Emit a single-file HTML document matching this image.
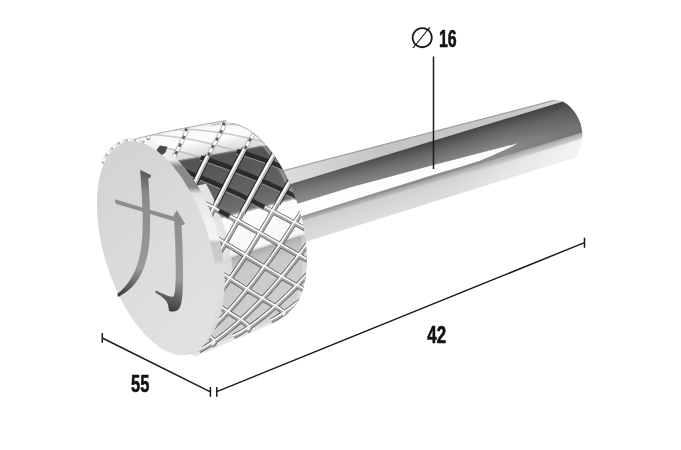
<!DOCTYPE html>
<html lang="en"><head><meta charset="utf-8"><title>Pin dimensions</title>
<style>html,body{margin:0;padding:0;background:#fff}body{width:681px;height:450px;overflow:hidden}svg{display:block}</style></head>
<body>
<svg width="681" height="450" viewBox="0 0 681 450">
<defs>
<linearGradient id="gTop" gradientUnits="userSpaceOnUse" x1="285" y1="0" x2="575" y2="0"><stop offset="0" stop-color="#dcdcdc"/><stop offset=".35" stop-color="#c4c4c4"/><stop offset=".8" stop-color="#c8c8c8"/><stop offset="1" stop-color="#dadada"/></linearGradient>
<linearGradient id="gDark" gradientUnits="userSpaceOnUse" x1="430" y1="141" x2="438.5" y2="169"><stop offset="0" stop-color="#424242"/><stop offset=".4" stop-color="#686868"/><stop offset="1" stop-color="#8c8c8c"/></linearGradient>
<linearGradient id="gDarkL" gradientUnits="userSpaceOnUse" x1="285" y1="0" x2="420" y2="0"><stop offset="0" stop-color="#fff" stop-opacity=".16"/><stop offset="1" stop-color="#fff" stop-opacity="0"/></linearGradient>
<linearGradient id="gDarkR" gradientUnits="userSpaceOnUse" x1="500" y1="0" x2="585" y2="0"><stop offset="0" stop-color="#333" stop-opacity="0"/><stop offset="1" stop-color="#333" stop-opacity=".3"/></linearGradient>
<linearGradient id="gLow" gradientUnits="userSpaceOnUse" x1="430" y1="179" x2="438" y2="205"><stop offset="0" stop-color="#cacaca"/><stop offset=".4" stop-color="#d6d6d6"/><stop offset="1" stop-color="#dfdfdf"/></linearGradient>
<linearGradient id="gLowE" gradientUnits="userSpaceOnUse" x1="430" y1="178.5" x2="432" y2="185"><stop offset="0" stop-color="#808080" stop-opacity=".55"/><stop offset="1" stop-color="#8a8a8a" stop-opacity="0"/></linearGradient>
<linearGradient id="gLowR" gradientUnits="userSpaceOnUse" x1="450" y1="175" x2="590" y2="190"><stop offset="0" stop-color="#fff" stop-opacity="0"/><stop offset="1" stop-color="#fff" stop-opacity=".8"/></linearGradient>
<linearGradient id="gBev" gradientUnits="userSpaceOnUse" x1="0" y1="140" x2="0" y2="350"><stop offset="0" stop-color="#f4f4f4"/><stop offset=".095" stop-color="#ececec"/><stop offset=".125" stop-color="#8c8c8c"/><stop offset=".225" stop-color="#868686"/><stop offset=".255" stop-color="#e4e4e4"/><stop offset=".4" stop-color="#f2f2f2"/><stop offset=".47" stop-color="#f4f4f4"/><stop offset=".49" stop-color="#c8c8c8"/><stop offset=".57" stop-color="#cccccc"/><stop offset=".6" stop-color="#e0e0e0"/><stop offset="1" stop-color="#d8d8d8"/></linearGradient>
<linearGradient id="gGlyph" gradientUnits="userSpaceOnUse" x1="0" y1="-50" x2="0" y2="45"><stop offset="0" stop-color="#4a4a4a"/><stop offset=".2" stop-color="#8a8a8a"/><stop offset=".75" stop-color="#9a9a9a"/><stop offset="1" stop-color="#3c3c3c"/></linearGradient>
<linearGradient id="gFace" gradientUnits="userSpaceOnUse" x1="105" y1="180" x2="215" y2="300"><stop offset="0" stop-color="#d4d4d4"/><stop offset=".5" stop-color="#dbdbdb"/><stop offset="1" stop-color="#e1e1e1"/></linearGradient>
<linearGradient id="gCh" gradientUnits="userSpaceOnUse" x1="175" y1="0" x2="235" y2="0"><stop offset="0" stop-color="#ededed"/><stop offset=".7" stop-color="#e6e6e6" stop-opacity=".95"/><stop offset="1" stop-color="#dcdcdc" stop-opacity=".85"/></linearGradient>
<clipPath id="cShaft"><path d="M270,173.6 L551,100.5 C556,99.2 560,100 564.4,102.4 C569,105 573,109.5 576,114 C580,120.5 582,127 582.3,134 C582.4,143 579,151 574.5,157.5 L300,243.4 Z"/></clipPath>
</defs>
<rect width="681" height="450" fill="#fff"/>
<g clip-path="url(#cShaft)">
<rect x="260" y="80" width="340" height="180" fill="#e4e4e4"/>
<polygon points="270,189.3 600,89.3 600,128 270,229" fill="url(#gDark)"/>
<polygon points="270,189.3 420,143.9 420,183.1 270,229" fill="url(#gDarkL)"/>
<polygon points="500,119.6 600,89.3 600,128 500,158.6" fill="url(#gDarkR)"/>
<polygon points="270,170.6 600,84.8 600,90.3 270,190.3" fill="url(#gTop)"/>
<path d="M270,174.2 L600,88.4" stroke="#8c8c8c" stroke-opacity=".7" stroke-width="1.2" fill="none"/>
<polygon points="270,212.3 299.8,203.1 350,187.6 433.6,165.1 518,143.3 510,147.4 500,152 490,156.6 480,160.7 460,166.9 440,172.7 400,185.2 300,216.4 270,225.6" fill="#fdfdfd"/>
<polygon points="270,228 600,127 600,159.8 270,262.8" fill="url(#gLow)"/>
<polygon points="270,228 600,127 600,134 270,230" fill="url(#gLowE)"/>
<polygon points="440,183 600,133 600,159.8 440,209.8" fill="url(#gLowR)"/>
</g>
<clipPath id="cBody"><path d="M117,145.5 L140,137.6 L163.7,132 L204.5,124 L226,120.3 L229.6,122.8 L234.1,123.4 L238.8,124.7 L243.5,126.7 L248.3,129.4 L253.1,132.7 L257.9,136.7 L262.6,141.3 L267.3,146.6 L271.8,152.3 L276.2,158.6 L280.4,165.3 L284.3,172.4 L288,179.9 L291.5,187.7 L294.6,195.7 L297.4,203.9 L299.9,212.2 L302,220.6 L303.7,229 L305.1,237.3 L306,245.5 L306.5,253.5 L306.6,261.3 L306.3,268.7 L305.6,275.8 L304.5,282.5 L303,288.7 L301.1,294.4 L298.8,299.6 L296.1,304.2 L286,315 L277.5,321.5 L196,356.5 L189.8,353.8 L185.7,354.7 L181.5,354.9 L177.1,354.5 L172.6,353.4 L168,351.7 L163.3,349.3 L158.6,346.4 L153.9,342.8 L149.2,338.6 L144.5,333.9 L140,328.6 L135.5,322.9 L131.2,316.7 L127,310 L123,303 L119.2,295.7 L115.7,288 L112.4,280.1 L109.4,272 L106.7,263.8 L104.3,255.5 L102.2,247.1 L100.4,238.7 L99,230.4 L98,222.2 L97.3,214.2 L97,206.4 L97.1,198.8 L97.5,191.5 L98.3,184.6 L99.5,178.1 L101,172 L102.9,166.4 L105.1,161.2 L107.6,156.7 L110.4,152.6 L113.6,149.2 L116.9,146.4 L120.6,144.2 L124.4,142.6 Z"/></clipPath>
<g clip-path="url(#cBody)">
<rect x="90" y="100" width="240" height="270" fill="#e6e6e6"/>
<polygon points="109.6,142.5 218.2,127.2 219.6,126.2 111.2,141.4" fill="#f4f4f4"/>
<polygon points="110.4,141.9 218.9,126.7 220.4,125.7 112,140.8" fill="#f3f3f3"/>
<polygon points="111.2,141.4 219.6,126.2 221.1,125.3 112.9,140.3" fill="#f2f2f2"/>
<polygon points="112,140.8 220.4,125.7 221.9,124.9 113.7,139.9" fill="#f1f1f1"/>
<polygon points="112.9,140.3 221.1,125.3 222.7,124.5 114.6,139.4" fill="#f0f0f0"/>
<polygon points="113.7,139.9 221.9,124.9 223.4,124.1 115.4,139" fill="#f0f0f0"/>
<polygon points="114.6,139.4 222.7,124.5 224.2,123.8 116.3,138.7" fill="#efefef"/>
<polygon points="115.4,139 223.4,124.1 225,123.5 117.2,138.3" fill="#eeeeee"/>
<polygon points="116.3,138.7 224.2,123.8 225.9,123.2 118.1,138" fill="#ededed"/>
<polygon points="117.2,138.3 225,123.5 226.7,123 119.1,137.8" fill="#ececec"/>
<polygon points="118.1,138 225.9,123.2 227.5,122.8 120,137.6" fill="#ededed"/>
<polygon points="119.1,137.8 226.7,123 228.4,122.6 120.9,137.4" fill="#eeeeee"/>
<polygon points="120,137.6 227.5,122.8 229.2,122.5 121.9,137.2" fill="#efefef"/>
<polygon points="120.9,137.4 228.4,122.6 230.1,122.3 122.8,137.1" fill="#f0f0f0"/>
<polygon points="121.9,137.2 229.2,122.5 230.9,122.2 123.8,137" fill="#f1f1f1"/>
<polygon points="122.8,137.1 230.1,122.3 231.8,122.2 124.8,136.9" fill="#f3f3f3"/>
<polygon points="123.8,137 230.9,122.2 232.7,122.1 125.7,136.9" fill="#f4f4f4"/>
<polygon points="124.8,136.9 231.8,122.2 233.6,122.1 126.7,136.9" fill="#f5f5f5"/>
<polygon points="125.7,136.9 232.7,122.1 234.5,122.2 127.7,136.9" fill="#f6f6f6"/>
<polygon points="126.7,136.9 233.6,122.1 235.4,122.2 128.7,137" fill="#f7f7f7"/>
<polygon points="127.7,136.9 234.5,122.2 236.3,122.3 129.8,137.1" fill="#f8f8f8"/>
<polygon points="128.7,137 235.4,122.2 237.2,122.4 130.8,137.2" fill="#f8f8f8"/>
<polygon points="129.8,137.1 236.3,122.3 238.1,122.6 131.8,137.4" fill="#f8f8f8"/>
<polygon points="130.8,137.2 237.2,122.4 239,122.7 132.8,137.6" fill="#f9f9f9"/>
<polygon points="131.8,137.4 238.1,122.6 239.9,122.9 133.9,137.8" fill="#f9f9f9"/>
<polygon points="132.8,137.6 239,122.7 240.9,123.2 134.9,138.1" fill="#f9f9f9"/>
<polygon points="133.9,137.8 239.9,122.9 241.8,123.4 136,138.4" fill="#f9f9f9"/>
<polygon points="134.9,138.1 240.9,123.2 242.8,123.7 137,138.7" fill="#f9f9f9"/>
<polygon points="136,138.4 241.8,123.4 243.7,124 138.1,139.1" fill="#f9f9f9"/>
<polygon points="137,138.7 242.8,123.7 244.7,124.4 139.1,139.5" fill="#fafafa"/>
<polygon points="138.1,139.1 243.7,124 245.6,124.8 140.2,139.9" fill="#fafafa"/>
<polygon points="139.1,139.5 244.7,124.4 246.6,125.2 141.3,140.4" fill="#fafafa"/>
<polygon points="140.2,139.9 245.6,124.8 247.5,125.6 142.3,140.9" fill="#fafafa"/>
<polygon points="141.3,140.4 246.6,125.2 248.5,126.1 143.4,141.4" fill="#fafafa"/>
<polygon points="142.3,140.9 247.5,125.6 249.4,126.6 144.5,142" fill="#fafafa"/>
<polygon points="143.4,141.4 248.5,126.1 250.4,127.1 145.6,142.6" fill="#fafafa"/>
<polygon points="144.5,142 249.4,126.6 251.4,127.6 146.6,143.2" fill="#fbfbfb"/>
<polygon points="145.6,142.6 250.4,127.1 252.3,128.2 147.7,143.9" fill="#fbfbfb"/>
<polygon points="146.6,143.2 251.4,127.6 253.3,128.8 148.8,144.6" fill="#fbfbfb"/>
<polygon points="147.7,143.9 252.3,128.2 254.3,129.4 149.9,145.3" fill="#fbfbfb"/>
<polygon points="148.8,144.6 253.3,128.8 255.2,130.1 151,146" fill="#fbfbfb"/>
<polygon points="149.9,145.3 254.3,129.4 256.2,130.8 152.1,146.8" fill="#fbfbfb"/>
<polygon points="151,146 255.2,130.1 257.2,131.5 153.2,147.6" fill="#fcfcfc"/>
<polygon points="152.1,146.8 256.2,130.8 258.1,132.2 154.2,148.5" fill="#fcfcfc"/>
<polygon points="153.2,147.6 257.2,131.5 259.1,133 155.3,149.4" fill="#fcfcfc"/>
<polygon points="154.2,148.5 258.1,132.2 260.1,133.8 156.4,150.3" fill="#fbfbfb"/>
<polygon points="155.3,149.4 259.1,133 261,134.6 157.5,151.2" fill="#f8f8f8"/>
<polygon points="156.4,150.3 260.1,133.8 262,135.4 158.6,152.2" fill="#f5f5f5"/>
<polygon points="157.5,151.2 261,134.6 263,136.3 159.7,153.1" fill="#f2f2f2"/>
<polygon points="158.6,152.2 262,135.4 263.9,137.2 160.7,154.2" fill="#f0f0f0"/>
<polygon points="159.7,153.1 263,136.3 264.9,138.1 161.8,155.2" fill="#ededed"/>
<polygon points="160.7,154.2 263.9,137.2 265.8,139.1 162.9,156.3" fill="#eaeaea"/>
<polygon points="161.8,155.2 264.9,138.1 266.8,140 163.9,157.4" fill="#e7e7e7"/>
<polygon points="162.9,156.3 265.8,139.1 267.7,141 165,158.5" fill="#e4e4e4"/>
<polygon points="163.9,157.4 266.8,140 268.7,142 166.1,159.7" fill="#e1e1e1"/>
<polygon points="165,158.5 267.7,141 269.6,143.1 167.1,160.9" fill="#dddddd"/>
<polygon points="166.1,159.7 268.7,142 270.6,144.1 168.2,162.1" fill="#dadada"/>
<polygon points="167.1,160.9 269.6,143.1 271.5,145.2 169.2,163.3" fill="#d6d6d6"/>
<polygon points="168.2,162.1 270.6,144.1 272.4,146.3 170.3,164.6" fill="#7f7f7f"/>
<polygon points="169.2,163.3 271.5,145.2 273.3,147.5 171.3,165.9" fill="#545454"/>
<polygon points="170.3,164.6 272.4,146.3 274.3,148.6 172.3,167.2" fill="#555555"/>
<polygon points="171.3,165.9 273.3,147.5 275.2,149.8 173.4,168.5" fill="#555555"/>
<polygon points="172.3,167.2 274.3,148.6 276.1,151 174.4,169.9" fill="#555555"/>
<polygon points="173.4,168.5 275.2,149.8 277,152.2 175.4,171.3" fill="#565656"/>
<polygon points="174.4,169.9 276.1,151 277.9,153.4 176.4,172.7" fill="#565656"/>
<polygon points="175.4,171.3 277,152.2 278.7,154.7 177.4,174.1" fill="#565656"/>
<polygon points="176.4,172.7 277.9,153.4 279.6,155.9 178.4,175.6" fill="#575757"/>
<polygon points="177.4,174.1 278.7,154.7 280.5,157.2 179.3,177" fill="#575757"/>
<polygon points="178.4,175.6 279.6,155.9 281.3,158.5 180.3,178.5" fill="#575757"/>
<polygon points="179.3,177 280.5,157.2 282.2,159.9 181.3,180.1" fill="#585858"/>
<polygon points="180.3,178.5 281.3,158.5 283,161.2 182.2,181.6" fill="#585858"/>
<polygon points="181.3,180.1 282.2,159.9 283.9,162.6 183.2,183.2" fill="#595959"/>
<polygon points="182.2,181.6 283,161.2 284.7,164 184.1,184.7" fill="#5a5a5a"/>
<polygon points="183.2,183.2 283.9,162.6 285.5,165.4 185,186.3" fill="#5b5b5b"/>
<polygon points="184.1,184.7 284.7,164 286.3,166.8 185.9,187.9" fill="#5c5c5c"/>
<polygon points="185,186.3 285.5,165.4 287.1,168.2 186.9,189.6" fill="#5c5c5c"/>
<polygon points="185.9,187.9 286.3,166.8 287.9,169.7 187.7,191.2" fill="#5d5d5d"/>
<polygon points="186.9,189.6 287.1,168.2 288.7,171.1 188.6,192.9" fill="#5e5e5e"/>
<polygon points="187.7,191.2 287.9,169.7 289.5,172.6 189.5,194.6" fill="#5f5f5f"/>
<polygon points="188.6,192.9 288.7,171.1 290.2,174.1 190.4,196.3" fill="#5f5f5f"/>
<polygon points="189.5,194.6 289.5,172.6 291,175.6 191.2,198" fill="#606060"/>
<polygon points="190.4,196.3 290.2,174.1 291.7,177.1 192,199.7" fill="#616161"/>
<polygon points="191.2,198 291,175.6 292.5,178.7 192.9,201.5" fill="#626262"/>
<polygon points="192,199.7 291.7,177.1 293.2,180.2 193.7,203.2" fill="#626262"/>
<polygon points="192.9,201.5 292.5,178.7 293.9,181.8 194.5,205" fill="#636363"/>
<polygon points="193.7,203.2 293.2,180.2 294.6,183.3 195.3,206.8" fill="#646464"/>
<polygon points="194.5,205 293.9,181.8 295.3,184.9 196,208.6" fill="#656565"/>
<polygon points="195.3,206.8 294.6,183.3 295.9,186.5 196.8,210.4" fill="#666666"/>
<polygon points="196,208.6 295.3,184.9 296.6,188.1 197.5,212.2" fill="#676767"/>
<polygon points="196.8,210.4 295.9,186.5 297.2,189.7 198.3,214" fill="#696969"/>
<polygon points="197.5,212.2 296.6,188.1 297.9,191.3 199,215.9" fill="#6b6b6b"/>
<polygon points="198.3,214 297.2,189.7 298.5,192.9 199.7,217.7" fill="#6d6d6d"/>
<polygon points="199,215.9 297.9,191.3 299.1,194.6 200.4,219.6" fill="#6f6f6f"/>
<polygon points="199.7,217.7 298.5,192.9 299.7,196.2 201.1,221.4" fill="#717171"/>
<polygon points="200.4,219.6 299.1,194.6 300.3,197.8 201.7,223.3" fill="#737373"/>
<polygon points="201.1,221.4 299.7,196.2 300.8,199.5 202.4,225.2" fill="#a1a1a1"/>
<polygon points="201.7,223.3 300.3,197.8 301.4,201.2 203,227.1" fill="#fcfcfc"/>
<polygon points="202.4,225.2 300.8,199.5 301.9,202.8 203.6,229" fill="#fcfcfc"/>
<polygon points="203,227.1 301.4,201.2 302.5,204.5 204.2,230.9" fill="#fcfcfc"/>
<polygon points="203.6,229 301.9,202.8 303,206.2 204.8,232.8" fill="#fbfbfb"/>
<polygon points="204.2,230.9 302.5,204.5 303.5,207.8 205.3,234.7" fill="#fbfbfb"/>
<polygon points="204.8,232.8 303,206.2 303.9,209.5 205.9,236.6" fill="#fbfbfb"/>
<polygon points="205.3,234.7 303.5,207.8 304.4,211.2 206.4,238.5" fill="#fbfbfb"/>
<polygon points="205.9,236.6 303.9,209.5 304.9,212.9 206.9,240.4" fill="#fbfbfb"/>
<polygon points="206.4,238.5 304.4,211.2 305.3,214.6 207.4,242.4" fill="#fafafa"/>
<polygon points="206.9,240.4 304.9,212.9 305.7,216.3 207.9,244.3" fill="#fafafa"/>
<polygon points="207.4,242.4 305.3,214.6 306.1,218 208.4,246.2" fill="#fafafa"/>
<polygon points="207.9,244.3 305.7,216.3 306.5,219.7 208.8,248.1" fill="#fafafa"/>
<polygon points="208.4,246.2 306.1,218 306.9,221.3 209.3,250.1" fill="#fafafa"/>
<polygon points="208.8,248.1 306.5,219.7 307.3,223 209.7,252" fill="#f9f9f9"/>
<polygon points="209.3,250.1 306.9,221.3 307.6,224.7 210.1,253.9" fill="#f9f9f9"/>
<polygon points="209.7,252 307.3,223 307.9,226.4 210.4,255.8" fill="#f9f9f9"/>
<polygon points="210.1,253.9 307.6,224.7 308.2,228.1 210.8,257.7" fill="#f9f9f9"/>
<polygon points="210.4,255.8 307.9,226.4 308.5,229.8 211.1,259.7" fill="#f9f9f9"/>
<polygon points="210.8,257.7 308.2,228.1 308.8,231.5 211.5,261.6" fill="#f8f8f8"/>
<polygon points="211.1,259.7 308.5,229.8 309.1,233.1 211.8,263.5" fill="#f8f8f8"/>
<polygon points="211.5,261.6 308.8,231.5 309.3,234.8 212.1,265.4" fill="#dfdfdf"/>
<polygon points="211.8,263.5 309.1,233.1 309.6,236.5 212.3,267.3" fill="#adadad"/>
<polygon points="212.1,265.4 309.3,234.8 309.8,238.1 212.6,269.1" fill="#b2b2b2"/>
<polygon points="212.3,267.3 309.6,236.5 310,239.8 212.8,271" fill="#b7b7b7"/>
<polygon points="212.6,269.1 309.8,238.1 310.1,241.4 213,272.9" fill="#bcbcbc"/>
<polygon points="212.8,271 310,239.8 310.3,243.1 213.2,274.8" fill="#bfbfbf"/>
<polygon points="213,272.9 310.1,241.4 310.5,244.7 213.4,276.6" fill="#c1c1c1"/>
<polygon points="213.2,274.8 310.3,243.1 310.6,246.3 213.6,278.5" fill="#c3c3c3"/>
<polygon points="213.4,276.6 310.5,244.7 310.7,248 213.7,280.3" fill="#c5c5c5"/>
<polygon points="213.6,278.5 310.6,246.3 310.8,249.6 213.8,282.1" fill="#c7c7c7"/>
<polygon points="213.7,280.3 310.7,248 310.9,251.2 213.9,284" fill="#c9c9c9"/>
<polygon points="213.8,282.1 310.8,249.6 310.9,252.8 214,285.8" fill="#cacaca"/>
<polygon points="213.9,284 310.9,251.2 311,254.3 214.1,287.6" fill="#cacaca"/>
<polygon points="214,285.8 310.9,252.8 311,255.9 214.1,289.3" fill="#cacaca"/>
<polygon points="214.1,287.6 311,254.3 311,257.5 214.1,291.1" fill="#cacaca"/>
<polygon points="214.1,289.3 311,255.9 311,259 214.1,292.9" fill="#cbcbcb"/>
<polygon points="214.1,291.1 311,257.5 311,260.5 214.1,294.6" fill="#cbcbcb"/>
<polygon points="214.1,292.9 311,259 311,262.1 214.1,296.3" fill="#cbcbcb"/>
<polygon points="214.1,294.6 311,260.5 310.9,263.6 214,298.1" fill="#cbcbcb"/>
<polygon points="214.1,296.3 311,262.1 310.8,265.1 214,299.8" fill="#cbcbcb"/>
<polygon points="214,298.1 310.9,263.6 310.8,266.5 213.9,301.4" fill="#cbcbcb"/>
<polygon points="214,299.8 310.8,265.1 310.7,268 213.8,303.1" fill="#cbcbcb"/>
<polygon points="213.9,301.4 310.8,266.5 310.5,269.5 213.7,304.8" fill="#cbcbcb"/>
<polygon points="213.8,303.1 310.7,268 310.4,270.9 213.5,306.4" fill="#cccccc"/>
<polygon points="213.7,304.8 310.5,269.5 310.2,272.3 213.3,308" fill="#cccccc"/>
<polygon points="213.5,306.4 310.4,270.9 310.1,273.7 213.2,309.6" fill="#cccccc"/>
<polygon points="213.3,308 310.2,272.3 309.9,275.1 213,311.2" fill="#cccccc"/>
<polygon points="213.2,309.6 310.1,273.7 309.7,276.5 212.7,312.7" fill="#cccccc"/>
<polygon points="213,311.2 309.9,275.1 309.5,277.8 212.5,314.3" fill="#cccccc"/>
<polygon points="212.7,312.7 309.7,276.5 309.2,279.2 212.2,315.8" fill="#cccccc"/>
<polygon points="212.5,314.3 309.5,277.8 309,280.5 212,317.3" fill="#cccccc"/>
<polygon points="212.2,315.8 309.2,279.2 308.7,281.8 211.7,318.7" fill="#cccccc"/>
<polygon points="212,317.3 309,280.5 308.4,283.1 211.4,320.2" fill="#cdcdcd"/>
<polygon points="211.7,318.7 308.7,281.8 308.1,284.3 211,321.6" fill="#cdcdcd"/>
<polygon points="211.4,320.2 308.4,283.1 307.8,285.6 210.7,323" fill="#cdcdcd"/>
<polygon points="211,321.6 308.1,284.3 307.4,286.8 210.3,324.4" fill="#cdcdcd"/>
<polygon points="210.7,323 307.8,285.6 307.1,288 209.9,325.8" fill="#cdcdcd"/>
<polygon points="210.3,324.4 307.4,286.8 306.7,289.2 209.5,327.1" fill="#cdcdcd"/>
<polygon points="209.9,325.8 307.1,288 306.3,290.3 209.1,328.4" fill="#cdcdcd"/>
<polygon points="209.5,327.1 306.7,289.2 305.9,291.4 208.7,329.7" fill="#cdcdcd"/>
<polygon points="209.1,328.4 306.3,290.3 305.5,292.6 208.2,331" fill="#cecece"/>
<polygon points="208.7,329.7 305.9,291.4 305.1,293.6 207.8,332.2" fill="#cecece"/>
<polygon points="208.2,331 305.5,292.6 304.7,294.7 207.3,333.4" fill="#cecece"/>
<polygon points="207.8,332.2 305.1,293.6 304.2,295.8 206.8,334.6" fill="#cecece"/>
<polygon points="207.3,333.4 304.7,294.7 303.7,296.8 206.2,335.7" fill="#cecece"/>
<polygon points="206.8,334.6 304.2,295.8 303.2,297.8 205.7,336.9" fill="#cecece"/>
<polygon points="206.2,335.7 303.7,296.8 302.7,298.7 205.2,338" fill="#cfcfcf"/>
<polygon points="205.7,336.9 303.2,297.8 302.2,299.7 204.6,339" fill="#cfcfcf"/>
<polygon points="205.2,338 302.7,298.7 301.7,300.6 204,340.1" fill="#cfcfcf"/>
<polygon points="204.6,339 302.2,299.7 301.1,301.5 203.4,341.1" fill="#cfcfcf"/>
<polygon points="204,340.1 301.7,300.6 300.6,302.4 202.8,342.1" fill="#d0d0d0"/>
<polygon points="203.4,341.1 301.1,301.5 300,303.2 202.1,343.1" fill="#d0d0d0"/>
<polygon points="202.8,342.1 300.6,302.4 299.4,304.1 201.5,344" fill="#d0d0d0"/>
<polygon points="202.1,343.1 300,303.2 298.8,304.9 200.8,344.9" fill="#d0d0d0"/>
<polygon points="201.5,344 299.4,304.1 298.2,305.6 200.2,345.8" fill="#d1d1d1"/>
<polygon points="200.8,344.9 298.8,304.9 297.6,306.4 199.5,346.6" fill="#d1d1d1"/>
<polygon points="200.2,345.8 298.2,305.6 297,307.1 198.7,347.4" fill="#d1d1d1"/>
<polygon points="199.5,346.6 297.6,306.4 296.3,307.8 198,348.2" fill="#d1d1d1"/>
<polygon points="198.7,347.4 297,307.1 295.6,308.4 197.3,348.9" fill="#d2d2d2"/>
<polygon points="198,348.2 296.3,307.8 295,309.1 196.5,349.7" fill="#d2d2d2"/>
<polygon points="197.3,348.9 295.6,308.4 294.3,309.7 195.8,350.4" fill="#d2d2d2"/>
<polygon points="196.5,349.7 295,309.1 293.6,310.3 195,351" fill="#d2d2d2"/>
<polygon points="195.8,350.4 294.3,309.7 292.9,310.8 194.2,351.6" fill="#d3d3d3"/>
<polygon points="195,351 293.6,310.3 292.1,311.4 193.4,352.2" fill="#d3d3d3"/>
<polygon points="194.2,351.6 292.9,310.8 291.4,311.9 192.6,352.8" fill="#d3d3d3"/>
<polygon points="193.4,352.2 292.1,311.4 290.7,312.3 191.8,353.3" fill="#d3d3d3"/>
<polygon points="192.6,352.8 291.4,311.9 289.9,312.8 190.9,353.8" fill="#d4d4d4"/>
<polygon points="191.8,353.3 290.7,312.3 289.1,313.2 190.1,354.3" fill="#d4d4d4"/>
<polygon points="190.9,353.8 289.9,312.8 288.4,313.6 189.2,354.7" fill="#d4d4d4"/>
<polygon points="190.1,354.3 289.1,313.2 287.6,313.9 188.3,355.1" fill="#d4d4d4"/>
<polygon points="189.2,354.7 288.4,313.6 286.8,314.2 187.4,355.5" fill="#d5d5d5"/>
<polygon points="188.3,355.1 287.6,313.9 286,314.5 186.5,355.8" fill="#d5d5d5"/>
<polygon points="187.4,355.5 286.8,314.2 285.2,314.8 185.6,356.1" fill="#d5d5d5"/>
<polygon points="186.5,355.8 286,314.5 284.3,315 184.7,356.4" fill="#d5d5d5"/>
<polygon points="185.6,356.1 285.2,314.8 283.5,315.3 183.8,356.6" fill="#d6d6d6"/>
<polygon points="184.7,356.4 284.3,315 282.7,315.4 182.9,356.8" fill="#d6d6d6"/>
<polygon points="183.8,356.6 283.5,315.3 281.8,315.6 181.9,357" fill="#d6d6d6"/>
<polygon points="182.9,356.8 282.7,315.4 281,315.7 181,357.1" fill="#d6d6d6"/>
<polygon points="181.9,357 281.8,315.6 280.1,315.8 180,357.2" fill="#d7d7d7"/>
<polygon points="181,357.1 281,315.7 279.2,315.9 179,357.3" fill="#d7d7d7"/>
<polygon points="180,357.2 280.1,315.8 278.3,315.9 178,357.3" fill="#d7d7d7"/>
<polygon points="179,357.3 279.2,315.9 277.5,315.9 177,357.3" fill="#d7d7d7"/>
<polygon points="178,357.3 278.3,315.9 276.6,315.9 176,357.3" fill="#d8d8d8"/>
<polygon points="177,357.3 277.5,315.9 275.7,315.8 175,357.2" fill="#d8d8d8"/>
<polygon points="186.9,187.7 189.5,192.7 192.1,197.8 194.6,203 196.9,208.4 199.2,213.8 201.3,219.3 203.3,225 205.1,230.6 206.8,236.4 208.3,242.1 209.7,247.9 211,253.6 212,259.4 212.9,265.1 213.7,270.7 214.3,276.3 214.7,281.8 214.9,287.3 233.4,280.9 233.2,275.6 232.8,270.2 232.2,264.8 231.5,259.3 230.6,253.7 229.6,248.1 228.4,242.4 227,236.8 225.5,231.2 223.8,225.6 222.1,220.1 220.1,214.6 218.1,209.2 215.9,203.8 213.6,198.6 211.2,193.5 208.6,188.5 206,183.7" fill="url(#gCh)"/>
<polygon points="244.3,130.2 248.2,132.9 252.1,136 256,139.6 259.8,143.6 263.6,147.9 267.3,152.6 270.9,157.6 274.3,163 277.7,168.6 280.8,174.5 283.9,180.6 286.7,186.9 289.3,193.4 291.8,200 294,206.8 295.9,213.6 297.7,220.4 299.2,227.2 300.4,234.1 301.4,240.8 302.1,247.5 302.5,254 302.7,260.4 302.6,266.5 302.2,272.5 301.5,278.2 300.6,283.7 299.4,288.8 297.9,293.6 296.3,298.1 294.3,302.1 292.1,305.8 289.7,309.1 287.1,311.9 284.3,314.4 281.4,316.3 278.2,317.8 274.9,318.8 271.4,319.4 277.5,315.5 281,315.4 284.4,314.9 287.7,313.9 290.8,312.4 293.8,310.5 296.5,308.1 299.1,305.3 301.5,302 303.6,298.4 305.5,294.4 307.2,290 308.7,285.2 309.8,280.1 310.8,274.8 311.4,269.1 311.8,263.3 311.9,257.2 311.8,250.9 311.3,244.4 310.7,237.8 309.7,231.2 308.5,224.5 307,217.7 305.3,211 303.4,204.3 301.2,197.6 298.8,191.1 296.2,184.7 293.4,178.4 290.4,172.4 287.3,166.6 284,161 280.5,155.8 277,150.8 273.3,146.2 269.6,141.9 265.8,138 262,134.4 258.1,131.3 254.3,128.7" fill="#ffffff" fill-opacity=".28"/>
<path d="M190.4,192.4 L191.5,190.1 L192.6,187.7 L193.4,186.2 M204.8,226.6 L206.1,223.9 L207.5,221.3 L208.9,218.6 L210.2,216 L211.5,213.4 L212.8,210.9 L214.1,208.3 L215.4,205.8 L216.2,204.1 M213.5,262.8 L215.2,260 L216.9,257.2 L218.6,254.4 L220.3,251.6 L221.9,248.9 L223.5,246.1 L225.1,243.4 L226.7,240.6 L228.3,237.9 L229.8,235.2 L231.3,232.5 L232.8,229.8 L234.3,227.2 L235.8,224.5 L237.3,221.9 L238.7,219.3 L240.1,216.7 L241.5,214.1 L242.5,212.4 M215.8,298.2 L217.9,295.5 L220,292.7 L222.1,289.9 L224.1,287.1 L226.1,284.4 L228.1,281.6 L230.1,278.8 L232.1,276 L234,273.3 L235.9,270.5 L237.8,267.8 L239.6,265 L241.4,262.3 L243.3,259.5 L245.1,256.8 L246.8,254.1 L248.6,251.3 L250.3,248.6 L252,245.9 L253.7,243.2 L255.4,240.6 L257,237.9 L258.7,235.2 L260.3,232.6 L261.9,229.9 L263.4,227.3 L265,224.7 L266.6,222.1 L268.1,219.5 L269.6,217 L271.1,214.4 L272.6,211.9 L274,209.4 L275.5,206.9 L276.9,204.4 L277.4,203.6 M209.9,330.4 L212.7,327.8 L215.3,325.2 L217.9,322.5 L220.5,319.9 L223,317.3 L225.5,314.6 L228,312 L230.4,309.3 L232.8,306.7 L235.1,304 L237.5,301.3 L239.7,298.7 L242,296 L244.2,293.3 L246.4,290.6 L248.6,287.9 L250.8,285.3 L252.9,282.6 L255,279.9 L257.1,277.2 L259.1,274.5 L261.1,271.8 L263.1,269.1 L265.1,266.5 L267,263.8 L269,261.1 L270.9,258.4 L272.8,255.8 L274.6,253.1 L276.5,250.5 L278.3,247.8 L280.1,245.2 L281.9,242.5 L283.6,239.9 L285.4,237.3 L287.1,234.7 L288.8,232.1 L290.5,229.5 L292.1,226.9 L293.8,224.4 L295.4,221.8 L297,219.3 L298.6,216.8 L300.2,214.3 L301.8,211.8 L303.3,209.3 L304.4,207.6 M199.1,350.6 L205.6,347.2 L210.2,344.3 L214.3,341.6 L217.9,339 L221.4,336.4 L224.7,333.9 L227.9,331.3 L231,328.8 L234,326.2 L236.9,323.7 L239.7,321.2 L242.5,318.6 L245.2,316.1 L247.9,313.6 L250.5,311 L253.1,308.5 L255.7,305.9 L258.2,303.4 L260.7,300.8 L263.1,298.2 L265.5,295.6 L267.9,293.1 L270.2,290.5 L272.5,287.9 L274.8,285.3 L277,282.7 L279.2,280.1 L281.4,277.5 L283.6,274.9 L285.8,272.3 L287.9,269.7 L290,267.1 L292,264.5 L294.1,261.9 L296.1,259.3 L298.1,256.7 L300.1,254.2 L302,251.6 L304,249 L305.9,246.4 L307.8,243.8 L309.6,241.3 L310.9,239.6 M233.5,336.3 L240.3,332.9 L244.9,330.1 L248.9,327.5 L252.6,324.9 L256,322.4 L259.3,319.9 L262.4,317.4 L265.5,315 L268.4,312.5 L271.3,310.1 L274.1,307.6 L276.9,305.1 L279.6,302.7 L282.3,300.2 L284.9,297.7 L287.5,295.3 L290,292.8 L292.5,290.3 L295,287.8 L297.4,285.3 L299.8,282.8 L302.1,280.3 L304.5,277.8 L306.8,275.3 L309.1,272.8 L311.3,270.3 M271,320.7 L276.7,317.7 L281,315 L284.8,312.5 L288.3,310 L291.7,307.5 L294.9,305.1 L297.9,302.7 L300.9,300.3 L303.9,298 M300,198.6 L301.8,199.5 M264.3,207.3 L267,208.7 L269.7,210.1 L272.5,211.6 L275.2,213 L277.8,214.4 L280.5,215.7 L283.1,217.1 L285.7,218.5 L288.3,219.9 L290.8,221.2 L293.4,222.6 L295.9,223.9 L298.4,225.2 L300.9,226.6 L303.3,227.9 L305.7,229.2 L308.1,230.5 L309.7,231.3 M193.2,197.9 L196.3,199.4 L199.3,200.9 L202.3,202.4 L205.3,203.9 L208.3,205.4 L211.2,206.9 L214.2,208.4 L217.1,210 L219,211 M229.4,216.5 L232.2,218 L235,219.5 L237.7,221 L240.4,222.5 L243.1,224 L245.8,225.5 L248.5,227 L251.1,228.4 L253.7,229.9 L256.3,231.3 L258.8,232.8 L261.4,234.2 L263.9,235.6 L266.4,237.1 L268.8,238.5 L271.3,239.8 L273.7,241.2 L276.1,242.6 L278.5,243.9 L280.8,245.3 L283.1,246.6 L285.4,247.9 L287.7,249.2 L290,250.5 L292.2,251.7 L294.4,253 L296.6,254.2 L298.7,255.4 L300.9,256.6 L303,257.7 L305.1,258.9 L307.1,260 L309.2,261.1 L311.2,262.2 L311.8,262.6 M206.7,232.6 L209.4,234.2 L212.1,235.8 L214.7,237.3 L217.4,238.9 L220,240.4 L222.6,242 L225.2,243.5 L227.7,245 L230.2,246.6 L232.7,248.1 L235.2,249.5 L237.7,251 L240.1,252.5 L242.5,253.9 L244.9,255.4 L247.2,256.8 L249.5,258.2 L251.8,259.6 L254.1,261 L256.4,262.3 L258.6,263.7 L260.8,265 L263,266.3 L265.1,267.6 L267.3,268.9 L269.4,270.1 L271.5,271.3 L273.5,272.6 L275.5,273.7 L277.5,274.9 L279.5,276.1 L281.5,277.2 L283.4,278.3 L285.3,279.4 L287.2,280.4 L289,281.5 L290.8,282.5 L292.6,283.5 L294.4,284.5 L296.1,285.4 L297.8,286.3 L299.5,287.2 L301.1,288.1 L302.7,289 L304.3,289.8 L305.8,290.6 L306.8,291.1 M214.4,268.9 L216.7,270.4 L219,271.9 L221.3,273.3 L223.5,274.8 L225.8,276.2 L227.9,277.6 L230.1,279 L232.3,280.3 L234.4,281.7 L236.5,283 L238.5,284.3 L240.6,285.6 L242.6,286.8 L244.6,288.1 L246.5,289.3 L248.5,290.5 L250.4,291.7 L252.2,292.8 L254.1,294 L255.9,295.1 L257.7,296.1 L259.4,297.2 L261.2,298.2 L262.9,299.2 L264.5,300.2 L266.2,301.2 L267.8,302.1 L269.3,303 L270.9,303.9 L272.3,304.8 L273.8,305.7 L275.2,306.5 L276.5,307.3 L277.8,308.1 L279.1,308.8 L280.2,309.6 L281.3,310.4 L282.3,311.1 L283.1,311.8 L283.8,312.6 L284.2,313.4 L284.3,314.3 L283.4,315.4 L282.6,315.9 M215.4,303.9 L217.3,305.2 L219.2,306.4 L221,307.6 L222.8,308.7 L224.5,309.9 L226.3,311 L228,312.1 L229.6,313.2 L231.2,314.2 L232.8,315.3 L234.4,316.3 L235.9,317.2 L237.4,318.2 L238.8,319.1 L240.2,320 L241.5,320.9 L242.8,321.8 L244,322.6 L245.2,323.5 L246.2,324.3 L247.2,325.1 L248,325.9 L248.7,326.7 L249.2,327.6 L249.3,328.5 L248.6,329.6 L247,330.8 M207.8,335.4 L209,336.4 L210.2,337.3 L211.2,338.2 L212.2,339.1 L213,339.9 L213.7,340.8 L214.1,341.8 L214.3,342.7 L213.8,343.9 L211.2,345.6" fill="none" stroke="#3e3e3e" stroke-width="5.2" stroke-opacity=".78"/>
<path d="M190.4,192.4 L191.5,190.1 L192.6,187.7 L193.4,186.2 M204.8,226.6 L206.1,223.9 L207.5,221.3 L208.9,218.6 L210.2,216 L211.5,213.4 L212.8,210.9 L214.1,208.3 L215.4,205.8 L216.2,204.1 M213.5,262.8 L215.2,260 L216.9,257.2 L218.6,254.4 L220.3,251.6 L221.9,248.9 L223.5,246.1 L225.1,243.4 L226.7,240.6 L228.3,237.9 L229.8,235.2 L231.3,232.5 L232.8,229.8 L234.3,227.2 L235.8,224.5 L237.3,221.9 L238.7,219.3 L240.1,216.7 L241.5,214.1 L242.5,212.4 M215.8,298.2 L217.9,295.5 L220,292.7 L222.1,289.9 L224.1,287.1 L226.1,284.4 L228.1,281.6 L230.1,278.8 L232.1,276 L234,273.3 L235.9,270.5 L237.8,267.8 L239.6,265 L241.4,262.3 L243.3,259.5 L245.1,256.8 L246.8,254.1 L248.6,251.3 L250.3,248.6 L252,245.9 L253.7,243.2 L255.4,240.6 L257,237.9 L258.7,235.2 L260.3,232.6 L261.9,229.9 L263.4,227.3 L265,224.7 L266.6,222.1 L268.1,219.5 L269.6,217 L271.1,214.4 L272.6,211.9 L274,209.4 L275.5,206.9 L276.9,204.4 L277.4,203.6 M209.9,330.4 L212.7,327.8 L215.3,325.2 L217.9,322.5 L220.5,319.9 L223,317.3 L225.5,314.6 L228,312 L230.4,309.3 L232.8,306.7 L235.1,304 L237.5,301.3 L239.7,298.7 L242,296 L244.2,293.3 L246.4,290.6 L248.6,287.9 L250.8,285.3 L252.9,282.6 L255,279.9 L257.1,277.2 L259.1,274.5 L261.1,271.8 L263.1,269.1 L265.1,266.5 L267,263.8 L269,261.1 L270.9,258.4 L272.8,255.8 L274.6,253.1 L276.5,250.5 L278.3,247.8 L280.1,245.2 L281.9,242.5 L283.6,239.9 L285.4,237.3 L287.1,234.7 L288.8,232.1 L290.5,229.5 L292.1,226.9 L293.8,224.4 L295.4,221.8 L297,219.3 L298.6,216.8 L300.2,214.3 L301.8,211.8 L303.3,209.3 L304.4,207.6 M199.1,350.6 L205.6,347.2 L210.2,344.3 L214.3,341.6 L217.9,339 L221.4,336.4 L224.7,333.9 L227.9,331.3 L231,328.8 L234,326.2 L236.9,323.7 L239.7,321.2 L242.5,318.6 L245.2,316.1 L247.9,313.6 L250.5,311 L253.1,308.5 L255.7,305.9 L258.2,303.4 L260.7,300.8 L263.1,298.2 L265.5,295.6 L267.9,293.1 L270.2,290.5 L272.5,287.9 L274.8,285.3 L277,282.7 L279.2,280.1 L281.4,277.5 L283.6,274.9 L285.8,272.3 L287.9,269.7 L290,267.1 L292,264.5 L294.1,261.9 L296.1,259.3 L298.1,256.7 L300.1,254.2 L302,251.6 L304,249 L305.9,246.4 L307.8,243.8 L309.6,241.3 L310.9,239.6 M233.5,336.3 L240.3,332.9 L244.9,330.1 L248.9,327.5 L252.6,324.9 L256,322.4 L259.3,319.9 L262.4,317.4 L265.5,315 L268.4,312.5 L271.3,310.1 L274.1,307.6 L276.9,305.1 L279.6,302.7 L282.3,300.2 L284.9,297.7 L287.5,295.3 L290,292.8 L292.5,290.3 L295,287.8 L297.4,285.3 L299.8,282.8 L302.1,280.3 L304.5,277.8 L306.8,275.3 L309.1,272.8 L311.3,270.3 M271,320.7 L276.7,317.7 L281,315 L284.8,312.5 L288.3,310 L291.7,307.5 L294.9,305.1 L297.9,302.7 L300.9,300.3 L303.9,298 M300,198.6 L301.8,199.5 M264.3,207.3 L267,208.7 L269.7,210.1 L272.5,211.6 L275.2,213 L277.8,214.4 L280.5,215.7 L283.1,217.1 L285.7,218.5 L288.3,219.9 L290.8,221.2 L293.4,222.6 L295.9,223.9 L298.4,225.2 L300.9,226.6 L303.3,227.9 L305.7,229.2 L308.1,230.5 L309.7,231.3 M193.2,197.9 L196.3,199.4 L199.3,200.9 L202.3,202.4 L205.3,203.9 L208.3,205.4 L211.2,206.9 L214.2,208.4 L217.1,210 L219,211 M229.4,216.5 L232.2,218 L235,219.5 L237.7,221 L240.4,222.5 L243.1,224 L245.8,225.5 L248.5,227 L251.1,228.4 L253.7,229.9 L256.3,231.3 L258.8,232.8 L261.4,234.2 L263.9,235.6 L266.4,237.1 L268.8,238.5 L271.3,239.8 L273.7,241.2 L276.1,242.6 L278.5,243.9 L280.8,245.3 L283.1,246.6 L285.4,247.9 L287.7,249.2 L290,250.5 L292.2,251.7 L294.4,253 L296.6,254.2 L298.7,255.4 L300.9,256.6 L303,257.7 L305.1,258.9 L307.1,260 L309.2,261.1 L311.2,262.2 L311.8,262.6 M206.7,232.6 L209.4,234.2 L212.1,235.8 L214.7,237.3 L217.4,238.9 L220,240.4 L222.6,242 L225.2,243.5 L227.7,245 L230.2,246.6 L232.7,248.1 L235.2,249.5 L237.7,251 L240.1,252.5 L242.5,253.9 L244.9,255.4 L247.2,256.8 L249.5,258.2 L251.8,259.6 L254.1,261 L256.4,262.3 L258.6,263.7 L260.8,265 L263,266.3 L265.1,267.6 L267.3,268.9 L269.4,270.1 L271.5,271.3 L273.5,272.6 L275.5,273.7 L277.5,274.9 L279.5,276.1 L281.5,277.2 L283.4,278.3 L285.3,279.4 L287.2,280.4 L289,281.5 L290.8,282.5 L292.6,283.5 L294.4,284.5 L296.1,285.4 L297.8,286.3 L299.5,287.2 L301.1,288.1 L302.7,289 L304.3,289.8 L305.8,290.6 L306.8,291.1 M214.4,268.9 L216.7,270.4 L219,271.9 L221.3,273.3 L223.5,274.8 L225.8,276.2 L227.9,277.6 L230.1,279 L232.3,280.3 L234.4,281.7 L236.5,283 L238.5,284.3 L240.6,285.6 L242.6,286.8 L244.6,288.1 L246.5,289.3 L248.5,290.5 L250.4,291.7 L252.2,292.8 L254.1,294 L255.9,295.1 L257.7,296.1 L259.4,297.2 L261.2,298.2 L262.9,299.2 L264.5,300.2 L266.2,301.2 L267.8,302.1 L269.3,303 L270.9,303.9 L272.3,304.8 L273.8,305.7 L275.2,306.5 L276.5,307.3 L277.8,308.1 L279.1,308.8 L280.2,309.6 L281.3,310.4 L282.3,311.1 L283.1,311.8 L283.8,312.6 L284.2,313.4 L284.3,314.3 L283.4,315.4 L282.6,315.9 M215.4,303.9 L217.3,305.2 L219.2,306.4 L221,307.6 L222.8,308.7 L224.5,309.9 L226.3,311 L228,312.1 L229.6,313.2 L231.2,314.2 L232.8,315.3 L234.4,316.3 L235.9,317.2 L237.4,318.2 L238.8,319.1 L240.2,320 L241.5,320.9 L242.8,321.8 L244,322.6 L245.2,323.5 L246.2,324.3 L247.2,325.1 L248,325.9 L248.7,326.7 L249.2,327.6 L249.3,328.5 L248.6,329.6 L247,330.8 M207.8,335.4 L209,336.4 L210.2,337.3 L211.2,338.2 L212.2,339.1 L213,339.9 L213.7,340.8 L214.1,341.8 L214.3,342.7 L213.8,343.9 L211.2,345.6" fill="none" stroke="#a8a8a8" stroke-width="3.7"/>
<path d="M190.4,192.4 L191.5,190.1 L192.6,187.7 L193.4,186.2 M204.8,226.6 L206.1,223.9 L207.5,221.3 L208.9,218.6 L210.2,216 L211.5,213.4 L212.8,210.9 L214.1,208.3 L215.4,205.8 L216.2,204.1 M213.5,262.8 L215.2,260 L216.9,257.2 L218.6,254.4 L220.3,251.6 L221.9,248.9 L223.5,246.1 L225.1,243.4 L226.7,240.6 L228.3,237.9 L229.8,235.2 L231.3,232.5 L232.8,229.8 L234.3,227.2 L235.8,224.5 L237.3,221.9 L238.7,219.3 L240.1,216.7 L241.5,214.1 L242.5,212.4 M215.8,298.2 L217.9,295.5 L220,292.7 L222.1,289.9 L224.1,287.1 L226.1,284.4 L228.1,281.6 L230.1,278.8 L232.1,276 L234,273.3 L235.9,270.5 L237.8,267.8 L239.6,265 L241.4,262.3 L243.3,259.5 L245.1,256.8 L246.8,254.1 L248.6,251.3 L250.3,248.6 L252,245.9 L253.7,243.2 L255.4,240.6 L257,237.9 L258.7,235.2 L260.3,232.6 L261.9,229.9 L263.4,227.3 L265,224.7 L266.6,222.1 L268.1,219.5 L269.6,217 L271.1,214.4 L272.6,211.9 L274,209.4 L275.5,206.9 L276.9,204.4 L277.4,203.6 M209.9,330.4 L212.7,327.8 L215.3,325.2 L217.9,322.5 L220.5,319.9 L223,317.3 L225.5,314.6 L228,312 L230.4,309.3 L232.8,306.7 L235.1,304 L237.5,301.3 L239.7,298.7 L242,296 L244.2,293.3 L246.4,290.6 L248.6,287.9 L250.8,285.3 L252.9,282.6 L255,279.9 L257.1,277.2 L259.1,274.5 L261.1,271.8 L263.1,269.1 L265.1,266.5 L267,263.8 L269,261.1 L270.9,258.4 L272.8,255.8 L274.6,253.1 L276.5,250.5 L278.3,247.8 L280.1,245.2 L281.9,242.5 L283.6,239.9 L285.4,237.3 L287.1,234.7 L288.8,232.1 L290.5,229.5 L292.1,226.9 L293.8,224.4 L295.4,221.8 L297,219.3 L298.6,216.8 L300.2,214.3 L301.8,211.8 L303.3,209.3 L304.4,207.6 M199.1,350.6 L205.6,347.2 L210.2,344.3 L214.3,341.6 L217.9,339 L221.4,336.4 L224.7,333.9 L227.9,331.3 L231,328.8 L234,326.2 L236.9,323.7 L239.7,321.2 L242.5,318.6 L245.2,316.1 L247.9,313.6 L250.5,311 L253.1,308.5 L255.7,305.9 L258.2,303.4 L260.7,300.8 L263.1,298.2 L265.5,295.6 L267.9,293.1 L270.2,290.5 L272.5,287.9 L274.8,285.3 L277,282.7 L279.2,280.1 L281.4,277.5 L283.6,274.9 L285.8,272.3 L287.9,269.7 L290,267.1 L292,264.5 L294.1,261.9 L296.1,259.3 L298.1,256.7 L300.1,254.2 L302,251.6 L304,249 L305.9,246.4 L307.8,243.8 L309.6,241.3 L310.9,239.6 M233.5,336.3 L240.3,332.9 L244.9,330.1 L248.9,327.5 L252.6,324.9 L256,322.4 L259.3,319.9 L262.4,317.4 L265.5,315 L268.4,312.5 L271.3,310.1 L274.1,307.6 L276.9,305.1 L279.6,302.7 L282.3,300.2 L284.9,297.7 L287.5,295.3 L290,292.8 L292.5,290.3 L295,287.8 L297.4,285.3 L299.8,282.8 L302.1,280.3 L304.5,277.8 L306.8,275.3 L309.1,272.8 L311.3,270.3 M271,320.7 L276.7,317.7 L281,315 L284.8,312.5 L288.3,310 L291.7,307.5 L294.9,305.1 L297.9,302.7 L300.9,300.3 L303.9,298" fill="none" stroke="#ffffff" stroke-width="1.5" transform="translate(-0.8,-0.4)"/>
<path d="M300,198.6 L301.8,199.5 M264.3,207.3 L267,208.7 L269.7,210.1 L272.5,211.6 L275.2,213 L277.8,214.4 L280.5,215.7 L283.1,217.1 L285.7,218.5 L288.3,219.9 L290.8,221.2 L293.4,222.6 L295.9,223.9 L298.4,225.2 L300.9,226.6 L303.3,227.9 L305.7,229.2 L308.1,230.5 L309.7,231.3 M193.2,197.9 L196.3,199.4 L199.3,200.9 L202.3,202.4 L205.3,203.9 L208.3,205.4 L211.2,206.9 L214.2,208.4 L217.1,210 L219,211 M229.4,216.5 L232.2,218 L235,219.5 L237.7,221 L240.4,222.5 L243.1,224 L245.8,225.5 L248.5,227 L251.1,228.4 L253.7,229.9 L256.3,231.3 L258.8,232.8 L261.4,234.2 L263.9,235.6 L266.4,237.1 L268.8,238.5 L271.3,239.8 L273.7,241.2 L276.1,242.6 L278.5,243.9 L280.8,245.3 L283.1,246.6 L285.4,247.9 L287.7,249.2 L290,250.5 L292.2,251.7 L294.4,253 L296.6,254.2 L298.7,255.4 L300.9,256.6 L303,257.7 L305.1,258.9 L307.1,260 L309.2,261.1 L311.2,262.2 L311.8,262.6 M206.7,232.6 L209.4,234.2 L212.1,235.8 L214.7,237.3 L217.4,238.9 L220,240.4 L222.6,242 L225.2,243.5 L227.7,245 L230.2,246.6 L232.7,248.1 L235.2,249.5 L237.7,251 L240.1,252.5 L242.5,253.9 L244.9,255.4 L247.2,256.8 L249.5,258.2 L251.8,259.6 L254.1,261 L256.4,262.3 L258.6,263.7 L260.8,265 L263,266.3 L265.1,267.6 L267.3,268.9 L269.4,270.1 L271.5,271.3 L273.5,272.6 L275.5,273.7 L277.5,274.9 L279.5,276.1 L281.5,277.2 L283.4,278.3 L285.3,279.4 L287.2,280.4 L289,281.5 L290.8,282.5 L292.6,283.5 L294.4,284.5 L296.1,285.4 L297.8,286.3 L299.5,287.2 L301.1,288.1 L302.7,289 L304.3,289.8 L305.8,290.6 L306.8,291.1 M214.4,268.9 L216.7,270.4 L219,271.9 L221.3,273.3 L223.5,274.8 L225.8,276.2 L227.9,277.6 L230.1,279 L232.3,280.3 L234.4,281.7 L236.5,283 L238.5,284.3 L240.6,285.6 L242.6,286.8 L244.6,288.1 L246.5,289.3 L248.5,290.5 L250.4,291.7 L252.2,292.8 L254.1,294 L255.9,295.1 L257.7,296.1 L259.4,297.2 L261.2,298.2 L262.9,299.2 L264.5,300.2 L266.2,301.2 L267.8,302.1 L269.3,303 L270.9,303.9 L272.3,304.8 L273.8,305.7 L275.2,306.5 L276.5,307.3 L277.8,308.1 L279.1,308.8 L280.2,309.6 L281.3,310.4 L282.3,311.1 L283.1,311.8 L283.8,312.6 L284.2,313.4 L284.3,314.3 L283.4,315.4 L282.6,315.9 M215.4,303.9 L217.3,305.2 L219.2,306.4 L221,307.6 L222.8,308.7 L224.5,309.9 L226.3,311 L228,312.1 L229.6,313.2 L231.2,314.2 L232.8,315.3 L234.4,316.3 L235.9,317.2 L237.4,318.2 L238.8,319.1 L240.2,320 L241.5,320.9 L242.8,321.8 L244,322.6 L245.2,323.5 L246.2,324.3 L247.2,325.1 L248,325.9 L248.7,326.7 L249.2,327.6 L249.3,328.5 L248.6,329.6 L247,330.8 M207.8,335.4 L209,336.4 L210.2,337.3 L211.2,338.2 L212.2,339.1 L213,339.9 L213.7,340.8 L214.1,341.8 L214.3,342.7 L213.8,343.9 L211.2,345.6" fill="none" stroke="#ffffff" stroke-width="1.5" transform="translate(0.3,-0.9)"/>
<path d="M236.7,151.1 L240.1,152.1 L243.4,153.1 L246.7,154.2 L250,155.3 L253.3,156.4 L256.5,157.5 L259.8,158.6 L263,159.7 L266.1,160.9 L269.3,162.1 L272.5,163.2 L275.6,164.4 L278.7,165.6 L281.8,166.8 L284.9,168 L287.9,169.2 L288.9,169.6 M200.6,157.6 L204,158.7 L207.4,159.8 L210.8,160.9 L214.1,162.1 L217.4,163.3 L220.7,164.4 L224,165.6 L227.2,166.9 L230.5,168.1 L233.7,169.3 L236.9,170.6 L240,171.8 L243.2,173.1 L246.3,174.4 L249.4,175.7 L252.5,176.9 L255.6,178.2 L258.6,179.6 L261.7,180.9 L264.7,182.2 L267.6,183.5 L270.6,184.8 L273.5,186.2 L276.5,187.5 L279.4,188.8 L282.2,190.2 L285.1,191.5 L287.9,192.8 L290.8,194.2 L293.5,195.5 L296.3,196.8 L299.1,198.1 L300,198.6 M174.8,167.7 L178.2,168.9 L181.6,170.2 L184.9,171.4 L188.2,172.7 L191.5,174 L194.8,175.3 L198,176.6 L201.3,177.9 L204.5,179.3 L207.7,180.6 L210.9,182 L214,183.3 L217.1,184.7 L220.2,186.1 L223.3,187.5 L226.4,188.9 L229.4,190.3 L232.5,191.7 L235.4,193.1 L238.4,194.5 L241.4,195.9 L244.3,197.4 L247.2,198.8 L250.1,200.2 L253,201.6 L255.8,203.1 L258.7,204.5 L261.5,205.9 L264.3,207.3 M219,211 L221.9,212.5 L224.7,214 L227.6,215.5 L229.4,216.5" fill="none" stroke="#262626" stroke-width="5" stroke-opacity=".9"/>
<path d="M236.7,151.1 L240.1,152.1 L243.4,153.1 L246.7,154.2 L250,155.3 L253.3,156.4 L256.5,157.5 L259.8,158.6 L263,159.7 L266.1,160.9 L269.3,162.1 L272.5,163.2 L275.6,164.4 L278.7,165.6 L281.8,166.8 L284.9,168 L287.9,169.2 L288.9,169.6 M200.6,157.6 L204,158.7 L207.4,159.8 L210.8,160.9 L214.1,162.1 L217.4,163.3 L220.7,164.4 L224,165.6 L227.2,166.9 L230.5,168.1 L233.7,169.3 L236.9,170.6 L240,171.8 L243.2,173.1 L246.3,174.4 L249.4,175.7 L252.5,176.9 L255.6,178.2 L258.6,179.6 L261.7,180.9 L264.7,182.2 L267.6,183.5 L270.6,184.8 L273.5,186.2 L276.5,187.5 L279.4,188.8 L282.2,190.2 L285.1,191.5 L287.9,192.8 L290.8,194.2 L293.5,195.5 L296.3,196.8 L299.1,198.1 L300,198.6 M174.8,167.7 L178.2,168.9 L181.6,170.2 L184.9,171.4 L188.2,172.7 L191.5,174 L194.8,175.3 L198,176.6 L201.3,177.9 L204.5,179.3 L207.7,180.6 L210.9,182 L214,183.3 L217.1,184.7 L220.2,186.1 L223.3,187.5 L226.4,188.9 L229.4,190.3 L232.5,191.7 L235.4,193.1 L238.4,194.5 L241.4,195.9 L244.3,197.4 L247.2,198.8 L250.1,200.2 L253,201.6 L255.8,203.1 L258.7,204.5 L261.5,205.9 L264.3,207.3 M219,211 L221.9,212.5 L224.7,214 L227.6,215.5 L229.4,216.5" fill="none" stroke="#8e8e8e" stroke-width="1.1" transform="translate(-0.6,2.6)"/>
<path d="M171.3,163.2 L171.9,162 M193.4,186.2 L194.4,183.9 L195.5,181.6 L196.6,179.4 L197.6,177.2 L198.7,175 L199.7,172.9 L200.7,170.8 L201.7,168.7 L202.7,166.7 L203.7,164.6 L204.7,162.7 L205.7,160.7 L206.6,158.8 L207.6,156.9 L208.2,155.7 M216.2,204.1 L217.5,201.6 L218.7,199.2 L220,196.7 L221.2,194.3 L222.4,191.9 L223.6,189.5 L224.8,187.2 L225.9,184.9 L227.1,182.6 L228.2,180.3 L229.4,178.1 L230.5,175.9 L231.6,173.7 L232.7,171.6 L233.8,169.5 L234.9,167.4 L235.9,165.3 L237,163.3 L238.1,161.3 L239.1,159.4 L240.1,157.4 L241.2,155.5 L242.2,153.7 L243.2,151.8 L244.2,150 L244.8,148.8 M242.5,212.4 L243.8,209.9 L245.2,207.4 L246.6,204.9 L247.9,202.4 L249.2,199.9 L250.5,197.5 L251.8,195.1 L253.1,192.7 L254.4,190.3 L255.7,188 L256.9,185.6 L258.2,183.3 L259.4,181.1 L260.6,178.8 L261.8,176.6 L263,174.4 L264.2,172.2 L265.4,170.1 L266.5,168 L267.7,165.9 L268.8,163.8 L270,161.8 L271.1,159.8 L272.2,157.8 L273.3,155.9 L274.4,154 L275.5,152.1 L276.6,150.2 M277.4,203.6 L278.8,201.1 L280.2,198.7 L281.6,196.3 L283,193.9 L284.3,191.5 L285.7,189.2 L287,186.9 L288.4,184.5 L289.7,182.3 L291,180 L292.3,177.8 L292.7,177" fill="none" stroke="#1e1e1e" stroke-width="6.4" stroke-opacity=".85"/>
<path d="M171.3,163.2 L171.9,162 M193.4,186.2 L194.4,183.9 L195.5,181.6 L196.6,179.4 L197.6,177.2 L198.7,175 L199.7,172.9 L200.7,170.8 L201.7,168.7 L202.7,166.7 L203.7,164.6 L204.7,162.7 L205.7,160.7 L206.6,158.8 L207.6,156.9 L208.2,155.7 M216.2,204.1 L217.5,201.6 L218.7,199.2 L220,196.7 L221.2,194.3 L222.4,191.9 L223.6,189.5 L224.8,187.2 L225.9,184.9 L227.1,182.6 L228.2,180.3 L229.4,178.1 L230.5,175.9 L231.6,173.7 L232.7,171.6 L233.8,169.5 L234.9,167.4 L235.9,165.3 L237,163.3 L238.1,161.3 L239.1,159.4 L240.1,157.4 L241.2,155.5 L242.2,153.7 L243.2,151.8 L244.2,150 L244.8,148.8 M242.5,212.4 L243.8,209.9 L245.2,207.4 L246.6,204.9 L247.9,202.4 L249.2,199.9 L250.5,197.5 L251.8,195.1 L253.1,192.7 L254.4,190.3 L255.7,188 L256.9,185.6 L258.2,183.3 L259.4,181.1 L260.6,178.8 L261.8,176.6 L263,174.4 L264.2,172.2 L265.4,170.1 L266.5,168 L267.7,165.9 L268.8,163.8 L270,161.8 L271.1,159.8 L272.2,157.8 L273.3,155.9 L274.4,154 L275.5,152.1 L276.6,150.2 M277.4,203.6 L278.8,201.1 L280.2,198.7 L281.6,196.3 L283,193.9 L284.3,191.5 L285.7,189.2 L287,186.9 L288.4,184.5 L289.7,182.3 L291,180 L292.3,177.8 L292.7,177" fill="none" stroke="#b4b4b4" stroke-width="4.4"/>
<path d="M171.3,163.2 L171.9,162 M193.4,186.2 L194.4,183.9 L195.5,181.6 L196.6,179.4 L197.6,177.2 L198.7,175 L199.7,172.9 L200.7,170.8 L201.7,168.7 L202.7,166.7 L203.7,164.6 L204.7,162.7 L205.7,160.7 L206.6,158.8 L207.6,156.9 L208.2,155.7 M216.2,204.1 L217.5,201.6 L218.7,199.2 L220,196.7 L221.2,194.3 L222.4,191.9 L223.6,189.5 L224.8,187.2 L225.9,184.9 L227.1,182.6 L228.2,180.3 L229.4,178.1 L230.5,175.9 L231.6,173.7 L232.7,171.6 L233.8,169.5 L234.9,167.4 L235.9,165.3 L237,163.3 L238.1,161.3 L239.1,159.4 L240.1,157.4 L241.2,155.5 L242.2,153.7 L243.2,151.8 L244.2,150 L244.8,148.8 M242.5,212.4 L243.8,209.9 L245.2,207.4 L246.6,204.9 L247.9,202.4 L249.2,199.9 L250.5,197.5 L251.8,195.1 L253.1,192.7 L254.4,190.3 L255.7,188 L256.9,185.6 L258.2,183.3 L259.4,181.1 L260.6,178.8 L261.8,176.6 L263,174.4 L264.2,172.2 L265.4,170.1 L266.5,168 L267.7,165.9 L268.8,163.8 L270,161.8 L271.1,159.8 L272.2,157.8 L273.3,155.9 L274.4,154 L275.5,152.1 L276.6,150.2 M277.4,203.6 L278.8,201.1 L280.2,198.7 L281.6,196.3 L283,193.9 L284.3,191.5 L285.7,189.2 L287,186.9 L288.4,184.5 L289.7,182.3 L291,180 L292.3,177.8 L292.7,177" fill="none" stroke="#ffffff" stroke-width="2" transform="translate(-0.7,-0.3)"/>
<path d="M211.4,124.9 L218.1,124.3 L223.3,124.2 L227.9,124.3 L232.3,124.5 L236.5,124.7 L240.5,125.1 L244.5,125.4 L248.4,125.9 L249.6,126 M174,130 L180.6,129.5 L185.8,129.5 L190.5,129.6 L195,129.8 L199.2,130.1 L203.4,130.5 L207.4,130.9 L211.3,131.4 L215.2,131.9 L219,132.5 L222.7,133 L226.4,133.7 L230.1,134.3 L233.7,135 L237.3,135.7 L240.9,136.5 L244.4,137.3 L247.9,138.1 L251.4,138.9 L254.8,139.7 L258.2,140.6 L261.7,141.5 L265,142.4 L268.4,143.3 L271.7,144.2 M133.3,135.7 L141.1,134.8 L146.7,134.7 L151.6,134.8 L156.2,135 L160.6,135.3 L164.8,135.7 L168.9,136.2 L172.9,136.7 L176.9,137.2 L180.8,137.8 L184.6,138.5 L188.4,139.1 L192.1,139.8 L195.8,140.6 L199.5,141.3 L203.1,142.1 L206.7,143 L210.2,143.8 L213.8,144.7 L217.3,145.6 L220.8,146.5 L224.2,147.4 L227.7,148.4 L231.1,149.4 L234.5,150.4 L236.7,151.1 M151.6,144.8 L155.3,145.6 L159.1,146.4 L162.8,147.2 L166.5,148 L170.1,148.9 L173.8,149.8 L177.3,150.8 L180.9,151.7 L184.4,152.7 L188,153.7 L191.4,154.7 L194.9,155.8 L198.3,156.9 L200.6,157.6" fill="none" stroke="#9a9a9a" stroke-width="1.5" stroke-opacity=".5"/>
<path d="M146.9,142 L147.4,140.7 L147.8,139.5 L148.1,138.4 L148.4,137.3 L148.5,136.3 L148.5,135.5 L148.2,134.7 L147.4,134.1 L145.2,134 M171.9,162 L172.7,160.1 L173.6,158.2 L174.5,156.4 L175.3,154.6 L176.2,152.9 L177,151.2 L177.8,149.6 L178.6,148 L179.3,146.4 L180.1,144.8 L180.8,143.4 L181.6,141.9 L182.3,140.5 L182.9,139.1 L183.5,137.8 L184.1,136.6 L184.7,135.4 L185.2,134.2 L185.6,133.1 L186,132.1 L186.2,131.1 L186.2,130.2 L186,129.5 L185.4,128.9 L183.7,128.7 L182.1,129 M208.2,155.7 L209.1,153.9 L210,152.1 L211,150.4 L211.9,148.6 L212.7,147 L213.6,145.3 L214.5,143.7 L215.3,142.2 L216.2,140.7 L217,139.2 L217.8,137.7 L218.5,136.3 L219.3,135 L220,133.7 L220.7,132.4 L221.4,131.2 L222,130 L222.6,128.9 L223.1,127.8 L223.5,126.8 L223.8,125.9 L224,125 L223.9,124.3 L223.5,123.7 L222,123.5 L220.8,123.6 M244.8,148.8 L245.8,147.1 L246.8,145.4 L247.7,143.7 L248.7,142.1 L249.6,140.5 L250.6,138.9 L251.5,137.4 L252.4,135.9 L253.3,134.4 L254.1,133 L255,131.6 L255.8,130.3 L256.1,129.9" fill="none" stroke="#8a8a8a" stroke-width="4.6" stroke-opacity=".55"/>
<path d="M146.9,142 L147.4,140.7 L147.8,139.5 L148.1,138.4 L148.4,137.3 L148.5,136.3 L148.5,135.5 L148.2,134.7 L147.4,134.1 L145.2,134 M171.9,162 L172.7,160.1 L173.6,158.2 L174.5,156.4 L175.3,154.6 L176.2,152.9 L177,151.2 L177.8,149.6 L178.6,148 L179.3,146.4 L180.1,144.8 L180.8,143.4 L181.6,141.9 L182.3,140.5 L182.9,139.1 L183.5,137.8 L184.1,136.6 L184.7,135.4 L185.2,134.2 L185.6,133.1 L186,132.1 L186.2,131.1 L186.2,130.2 L186,129.5 L185.4,128.9 L183.7,128.7 L182.1,129 M208.2,155.7 L209.1,153.9 L210,152.1 L211,150.4 L211.9,148.6 L212.7,147 L213.6,145.3 L214.5,143.7 L215.3,142.2 L216.2,140.7 L217,139.2 L217.8,137.7 L218.5,136.3 L219.3,135 L220,133.7 L220.7,132.4 L221.4,131.2 L222,130 L222.6,128.9 L223.1,127.8 L223.5,126.8 L223.8,125.9 L224,125 L223.9,124.3 L223.5,123.7 L222,123.5 L220.8,123.6 M244.8,148.8 L245.8,147.1 L246.8,145.4 L247.7,143.7 L248.7,142.1 L249.6,140.5 L250.6,138.9 L251.5,137.4 L252.4,135.9 L253.3,134.4 L254.1,133 L255,131.6 L255.8,130.3 L256.1,129.9" fill="none" stroke="#ffffff" stroke-width="2.6"/>
<path d="M146.9,142 L147.4,140.7 L147.8,139.5 L148.1,138.4 L148.4,137.3 L148.5,136.3 L148.5,135.5 L148.2,134.7 L147.4,134.1 L145.2,134 M171.9,162 L172.7,160.1 L173.6,158.2 L174.5,156.4 L175.3,154.6 L176.2,152.9 L177,151.2 L177.8,149.6 L178.6,148 L179.3,146.4 L180.1,144.8 L180.8,143.4 L181.6,141.9 L182.3,140.5 L182.9,139.1 L183.5,137.8 L184.1,136.6 L184.7,135.4 L185.2,134.2 L185.6,133.1 L186,132.1 L186.2,131.1 L186.2,130.2 L186,129.5 L185.4,128.9 L183.7,128.7 L182.1,129 M208.2,155.7 L209.1,153.9 L210,152.1 L211,150.4 L211.9,148.6 L212.7,147 L213.6,145.3 L214.5,143.7 L215.3,142.2 L216.2,140.7 L217,139.2 L217.8,137.7 L218.5,136.3 L219.3,135 L220,133.7 L220.7,132.4 L221.4,131.2 L222,130 L222.6,128.9 L223.1,127.8 L223.5,126.8 L223.8,125.9 L224,125 L223.9,124.3 L223.5,123.7 L222,123.5 L220.8,123.6 M244.8,148.8 L245.8,147.1 L246.8,145.4 L247.7,143.7 L248.7,142.1 L249.6,140.5 L250.6,138.9 L251.5,137.4 L252.4,135.9 L253.3,134.4 L254.1,133 L255,131.6 L255.8,130.3 L256.1,129.9" fill="none" stroke="#333333" stroke-width="2.4" stroke-dasharray="3.5 5" stroke-opacity=".8"/>
<polygon points="122.3,137.2 126.9,136.5 131.6,136.4 136.4,136.7 141.3,137.6 146.2,139.1 151.2,141 156.2,143.5 161.1,146.4 166,149.8 170.9,153.7 175.7,158 180.3,162.8 184.8,167.9 189.2,173.5 193.4,179.3 197.4,185.5 201.1,192 204.7,198.8 208,205.7 211,212.9 213.8,220.2 216.3,227.6 218.4,235.2 220.3,242.8 221.8,250.4 223,258 223.9,265.5 224.4,273 224.6,280.3 224.5,287.5 224,294.5 223.2,301.3 222,307.8 220.5,314 218.7,319.9 216.6,325.5 214.1,330.7 211.4,335.5 208.4,339.8 205.1,343.7 201.6,347.2 197.8,350.2 193.8,352.6 189.6,354.6 191.2,352.2 195.9,349.7 200.3,346.2 204.2,341.6 207.6,336.1 210.5,329.6 212.8,322.3 214.5,314.2 215.7,305.4 216.2,296 216.1,286.1 215.4,275.8 214.1,265.2 212.1,254.5 209.6,243.7 206.6,232.9 203,222.3 199,211.9 194.5,202 189.6,192.5 184.4,183.6 178.9,175.4 173.1,167.9 167.2,161.3 161.2,155.6 155.2,150.9 149.1,147.2 143.2,144.5 137.4,143 131.8,142.5 126.5,143.1" fill="url(#gBev)"/>
</g>
<path d="M122,143.4 L140,137.8 L163.7,132.3 L204.5,124.3 L226,120.6" fill="none" stroke="#b4b4b4" stroke-width="1.1"/>
<path d="M229.7,123.2 L232.4,123.5 L235.3,124.1 L238.2,124.9 L241.1,126 L244,127.4 L247,129 L250,130.9 L253,133.1 L256,135.5 L258.9,138.2 L261.9,141.1 L264.8,144.2" fill="none" stroke="#bcbcbc" stroke-width="1.1"/>
<path d="M102.5,163.5 L103.6,160.9 L104.8,158.5 L106.2,156.1 L107.6,154 L109,152 L110.6,150.1 L112.2,148.4 L113.9,146.8 L115.6,145.4 L117.5,144.1 L119.3,143 L121.3,142.1 L123.3,141.3 L125.3,140.7 L127.4,140.3 L129.6,140 L131.7,139.9 L134,140 L136.2,140.2 L138.5,140.6 L140.8,141.2 L143.2,141.9 L145.5,142.8 L147.9,143.8" fill="none" stroke="#e2e2e2" stroke-width="3.2"/>
<path d="M102.5,163.5 L103.6,160.9 L104.8,158.5 L106.2,156.1 L107.6,154 L109,152 L110.6,150.1 L112.2,148.4 L113.9,146.8 L115.6,145.4 L117.5,144.1 L119.3,143 L121.3,142.1 L123.3,141.3 L125.3,140.7 L127.4,140.3 L129.6,140 L131.7,139.9 L134,140 L136.2,140.2 L138.5,140.6 L140.8,141.2 L143.2,141.9 L145.5,142.8 L147.9,143.8" fill="none" stroke="#8a8a8a" stroke-width="2" stroke-dasharray="1.8 6.7" stroke-opacity=".7"/>
<path d="M102.5,163.5 L103.6,160.9 L104.8,158.5 L106.2,156.1 L107.6,154 L109,152 L110.6,150.1 L112.2,148.4 L113.9,146.8 L115.6,145.4 L117.5,144.1 L119.3,143 L121.3,142.1 L123.3,141.3 L125.3,140.7 L127.4,140.3 L129.6,140 L131.7,139.9 L134,140 L136.2,140.2 L138.5,140.6 L140.8,141.2 L143.2,141.9 L145.5,142.8 L147.9,143.8" fill="none" stroke="#ffffff" stroke-width="2.2" stroke-dasharray="2.6 5.9" stroke-dashoffset="-2.4"/>
<polygon points="156.5,150 160,145.6 167.5,146.8 165.5,152.6 160.5,156" fill="#4a4a4a"/>
<polygon points="207.5,232.6 209.7,240 211.6,247.4 213.2,254.9 214.6,262.3 215.7,269.6 216.5,276.9 217,284 217.2,290.9 217.1,297.6 216.7,304.1 216.1,310.3 215.1,316.2 213.9,321.8 212.4,327 210.6,331.8 208.6,336.2 206.3,340.2 203.8,343.8 201,346.8 198,349.4 194.9,351.5 191.5,353.1 188,354.2 184.3,354.8 180.5,354.9 176.6,354.4 172.6,353.4 168.5,351.9 164.4,349.9 160.2,347.4 156,344.4 151.8,341 147.6,337.1 143.5,332.8 139.5,328 135.5,322.9 131.6,317.4 127.9,311.5 124.3,305.4 120.9,299 117.6,292.3 114.6,285.4 111.7,278.4 109.1,271.1 106.7,263.8 104.5,256.4 102.6,249 101,241.5 99.6,234.1 98.5,226.8 97.7,219.5 97.2,212.4 97,205.5 97.1,198.8 97.5,192.3 98.1,186.1 99.1,180.2 100.3,174.6 101.8,169.4 103.6,164.6 105.6,160.2 107.9,156.2 110.4,152.6 113.2,149.6 116.2,147 119.3,144.9 122.7,143.3 126.2,142.2 129.9,141.6 133.7,141.5 137.6,142 141.6,143 145.7,144.5 149.8,146.5 154,149 158.2,152 162.4,155.4 166.6,159.3 170.7,163.6 174.7,168.4 178.7,173.5 182.6,179 186.3,184.9 189.9,191 193.3,197.4 196.6,204.1 199.6,211 202.5,218 205.1,225.3 207.5,232.6" fill="url(#gFace)"/>
<text x="0" y="38" text-anchor="middle" font-family="'Liberation Serif','Noto Serif CJK SC',serif" font-size="100" font-weight="500" fill="url(#gGlyph)" transform="matrix(0.86,0.255,0.10,1.48,152.0,240)">力</text>
<g stroke="#1a1a1a" stroke-width="1.5" fill="none">
<path d="M102.3,333 V342.8 M102.3,338 L210.4,391.8 M210.4,387 V396.8 M216.8,387 V396.8 M216.8,391.6 L584.5,242.6 M584.5,237.8 V247.7 M433.5,56.5 V169"/>
</g>
<g opacity=".995">
<text x="409.4" y="48.4" font-family="'DejaVu Sans',sans-serif" font-size="29.4" fill="#161616">∅</text>
<text font-family="'Liberation Sans',sans-serif" font-weight="700" font-size="24.2" fill="#111" stroke="#111" stroke-width="0.6" stroke-linejoin="round" transform="translate(438.9,46.9) scale(0.66,1)">16</text>
<text font-family="'Liberation Sans',sans-serif" font-weight="700" font-size="24.2" fill="#111" stroke="#111" stroke-width="0.6" stroke-linejoin="round" transform="translate(131,392.3) scale(0.68,1)">55</text>
<text font-family="'Liberation Sans',sans-serif" font-weight="700" font-size="24.2" fill="#111" stroke="#111" stroke-width="0.6" stroke-linejoin="round" transform="translate(427.3,343.2) scale(0.7,1)">42</text>
</g>
</svg>
</body></html>
